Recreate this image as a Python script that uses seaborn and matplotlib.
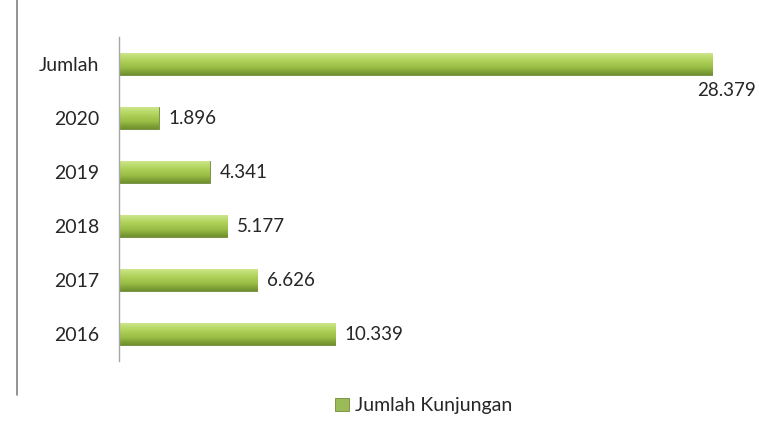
import numpy as np
import pandas as pd
import seaborn as sns
import matplotlib.pyplot as plt
from matplotlib.lines import Line2D
from matplotlib.patches import Patch
from matplotlib.colors import LinearSegmentedColormap

# data
categories = ["Jumlah", "2020", "2019", "2018", "2017", "2016"]
visits = [28379, 1896, 4341, 5177, 6626, 10339]
series_name = "Jumlah Kunjungan"

df = pd.DataFrame({"kategori": categories, "kunjungan": visits})

sns.set_style("white")
plt.rcParams["font.family"] = ["Lato", "DejaVu Sans"]

fig = plt.figure(figsize=(7.59, 4.21), dpi=100)
ax = fig.add_axes([0.1568, 0.1425, 0.826, 0.7696])

sns.barplot(data=df, x="kunjungan", y="kategori", order=categories, orient="h",
            color="#9bbb59", width=0.4, edgecolor="#6f8a36", linewidth=0.6,
            ax=ax)

# vertical gradient inside each bar, like the Excel bevel fill
grad = LinearSegmentedColormap.from_list("g", ["#cde68a", "#b0d25a", "#98bc44", "#6f8e2d"])
gimg = np.linspace(0, 1, 64).reshape(-1, 1)
for p in ax.patches:
    x0, y0 = p.get_x(), p.get_y()
    w, h = p.get_width(), p.get_height()
    im = ax.imshow(gimg, cmap=grad, aspect="auto", extent=(x0, x0 + w, y0 + h, y0),
                   zorder=p.get_zorder() + 0.1, interpolation="bilinear")
    im.set_clip_path(p)
ax.set_ylim(len(categories) - 0.5, -0.5)
ax.set_xlim(0, 30000)

# value labels (Indonesian thousands separator)
for i, v in enumerate(visits):
    txt = f"{v:,}".replace(",", ".")
    if i == 0:
        ax.annotate(txt, (v, i), xytext=(-11, -19), textcoords="offset points",
                    ha="left", va="center", fontsize=13.5, color="#262626",
                    annotation_clip=False)
    else:
        ax.annotate(txt, (v, i), xytext=(7, 0), textcoords="offset points",
                    ha="left", va="center", fontsize=13.5, color="#262626")

ax.set_xlabel("")
ax.set_ylabel("")
ax.set_xticks([])
ax.tick_params(axis="y", length=0, pad=14, labelsize=14, labelcolor="#262626")
for s in ["top", "right", "bottom"]:
    ax.spines[s].set_visible(False)
ax.spines["left"].set_color("#a6a6a6")
ax.spines["left"].set_linewidth(1)

# chart-area border on the far left
fig.add_artist(Line2D([0.0224, 0.0224], [1.0, 0.062], transform=fig.transFigure,
                      color="#808080", linewidth=1.2))

handle = Patch(facecolor="#9bbb59", edgecolor="#6f8a36", linewidth=0.6)
fig.legend([handle], [series_name], loc="center", bbox_to_anchor=(0.558, 0.036),
           frameon=False, handlelength=0.7, handleheight=0.7, handletextpad=0.3,
           fontsize=14, labelcolor="#262626")

fig.savefig("out.png", dpi=100)
